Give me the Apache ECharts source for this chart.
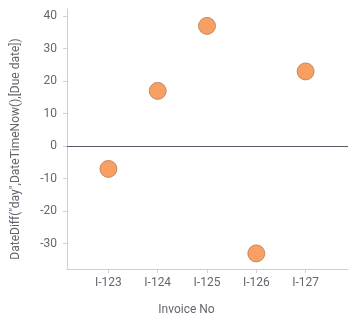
<!DOCTYPE html>
<html><head><meta charset="utf-8">
<script src="https://cdn.jsdelivr.net/npm/echarts@6/dist/echarts.min.js"></script>
<style>html,body{margin:0;padding:0;background:#fff}#c{width:361px;height:322px}</style>
</head><body><div id="c"></div>
<script>
const categories = ["I-123", "I-124", "I-125", "I-126", "I-127"];
const values = [-7, 17, 37, -33, 23];
const yTicks = [-30, -20, -10, 0, 10, 20, 30, 40];
const xName = "Invoice No";
const yName = 'DateDiff("day",DateTimeNow(),[Due date])';

const chart = echarts.init(document.getElementById('c'));
const txt = '#666670';
chart.setOption({
  animation: false,
  grid: { left: 67, right: 13, top: 9, bottom: 53 },
  xAxis: {
    type: 'value', min: -0.84, max: 4.86,
    name: xName, nameLocation: 'middle', nameGap: 35,
    nameTextStyle: { color: txt, fontFamily: 'Roboto', fontSize: 12, padding: [0, 42, 0, 0] },
    axisLine: { show: true, onZero: false, lineStyle: { color: '#cfcfdc' } },
    axisTick: { show: true, length: 4, customValues: [0,1,2,3,4], lineStyle: { color: '#cfcfdc' } },
    axisLabel: { customValues: [0,1,2,3,4], color: txt, fontFamily: 'Roboto', fontSize: 12, margin: 8,
      formatter: v => categories[Math.round(v)] },
    splitLine: { show: false }
  },
  yAxis: {
    type: 'value', min: -37.8, max: 42.2,
    name: yName, nameLocation: 'middle', nameGap: 45,
    nameTextStyle: { color: txt, fontFamily: 'Roboto', fontSize: 12, padding: [0, 20, 0, 0] },
    axisLine: { show: true, onZero: false, lineStyle: { color: '#cfcfdc' } },
    axisTick: { show: true, length: 4, customValues: yTicks, lineStyle: { color: '#cfcfdc' } },
    axisLabel: { customValues: yTicks, color: txt, fontFamily: 'Roboto', fontSize: 12, margin: 10 },
    splitLine: { show: false }
  },
  series: [{
    type: 'scatter',
    data: values.map((v, i) => [i, v]),
    symbolSize: 17,
    itemStyle: { color: '#f8a064', borderColor: '#b87a50', borderWidth: 0.8, opacity: 1 },
    markLine: {
      silent: true, symbol: 'none', label: { show: false },
      lineStyle: { color: '#5a5a66', width: 1, type: 'solid' },
      data: [{ yAxis: 0 }]
    }
  }]
});
</script></body></html>
